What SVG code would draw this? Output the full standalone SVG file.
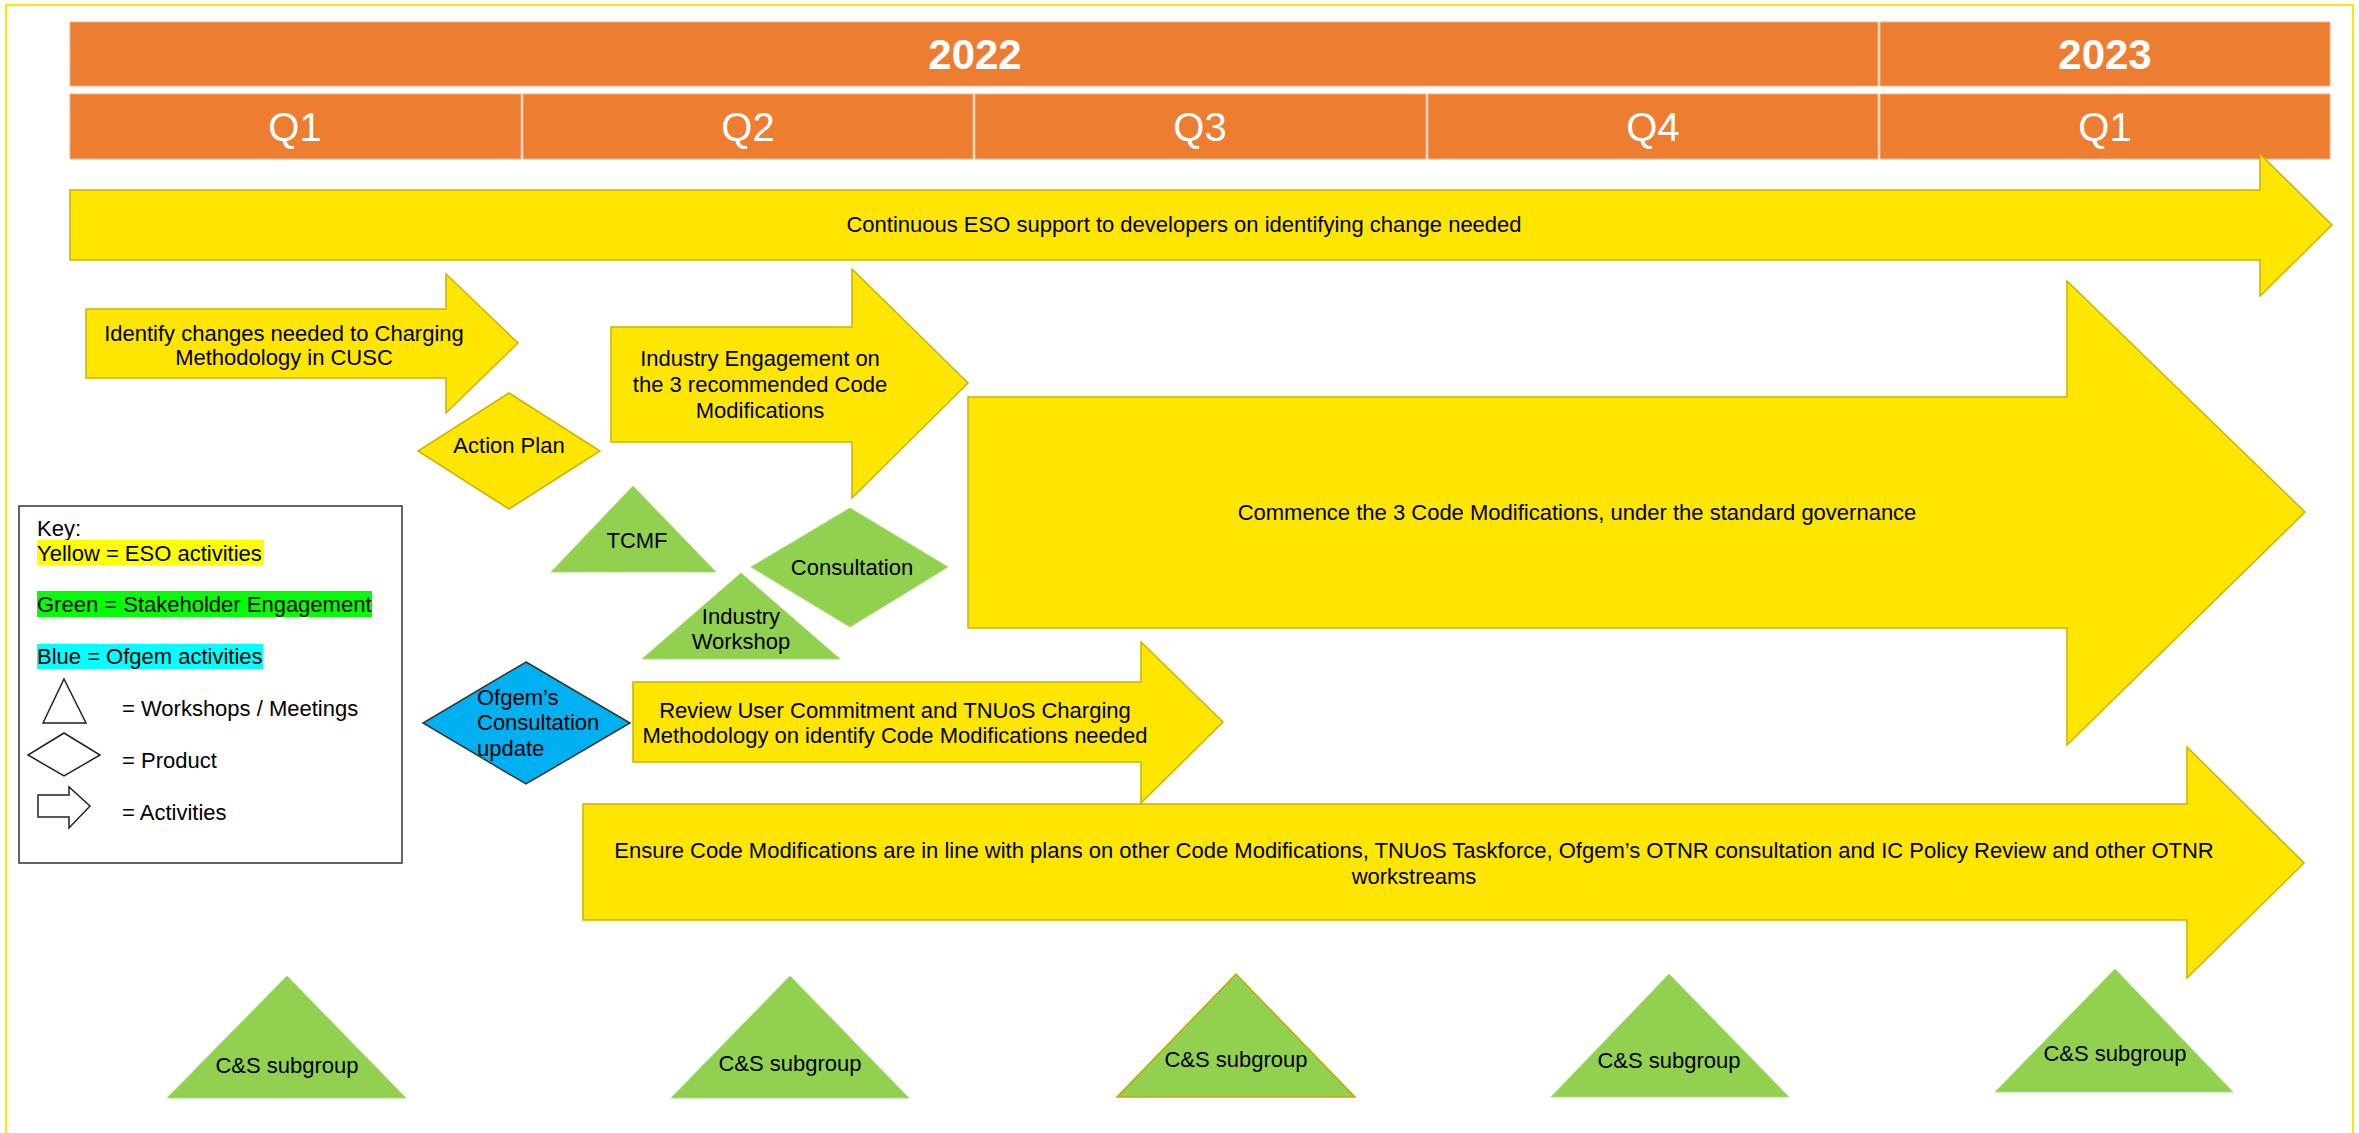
<svg xmlns="http://www.w3.org/2000/svg" width="2359" height="1133" viewBox="0 0 2359 1133">
<style>
text{font-family:"Liberation Sans",Arial,sans-serif;font-size:22px;fill:#000}
.c{text-anchor:middle}
.bar{fill:#ED7D31;stroke:#F4B183;stroke-width:1}
.yr{font-size:42px;font-weight:bold;fill:#fff;text-anchor:middle}
.q{font-size:40px;fill:#fff;text-anchor:middle}
.ya{fill:#FFE600;stroke:#C9B400;stroke-width:1.5}
.gr{fill:#92D050;stroke:#A9DC78;stroke-width:1}
.leg{fill:#fff;stroke:#222;stroke-width:1.5}
</style>
<rect x="6" y="5" width="2347" height="1145" fill="#fff" stroke="#FFE600" stroke-width="2"/>

<g id="timeline">
<rect class="bar" x="70" y="22" width="1808" height="64"/>
<rect class="bar" x="1880" y="22" width="450" height="64"/>
<text class="yr" x="975" y="69">2022</text>
<text class="yr" x="2105" y="69">2023</text>
<rect class="bar" x="70" y="94" width="451" height="65"/>
<rect class="bar" x="523" y="94" width="450" height="65"/>
<rect class="bar" x="975" y="94" width="451" height="65"/>
<rect class="bar" x="1428" y="94" width="450" height="65"/>
<rect class="bar" x="1880" y="94" width="450" height="65"/>
<text class="q" x="295" y="141">Q1</text>
<text class="q" x="748" y="141">Q2</text>
<text class="q" x="1200" y="141">Q3</text>
<text class="q" x="1653" y="141">Q4</text>
<text class="q" x="2105" y="141">Q1</text>
</g>

<g id="continuous">
<polygon class="ya" points="70,190 2260,190 2260,154 2332,225 2260,296 2260,260 70,260"/>
<text class="c" x="1184" y="232">Continuous ESO support to developers on identifying change needed</text>
</g>

<g id="identify">
<polygon class="ya" points="86,309 446,309 446,274 518,343 446,413 446,378 86,378"/>
<text class="c" x="284" y="341">Identify changes needed to Charging</text>
<text class="c" x="284" y="365">Methodology in CUSC</text>
</g>

<g id="industry-engagement">
<polygon class="ya" points="611,327 852,327 852,269 968,383 852,498 852,442 611,442"/>
<text class="c" x="760" y="366">Industry Engagement on</text>
<text class="c" x="760" y="392">the 3 recommended Code</text>
<text class="c" x="760" y="418">Modifications</text>
</g>

<g id="commence">
<polygon class="ya" points="968,397 2067,397 2067,281 2305,512 2067,745 2067,628 968,628"/>
<text class="c" x="1577" y="520">Commence the 3 Code Modifications, under the standard governance</text>
</g>

<g id="review">
<polygon class="ya" points="633,682 1141,682 1141,642 1223,722 1141,803 1141,762 633,762"/>
<text class="c" x="895" y="718">Review User Commitment and TNUoS Charging</text>
<text class="c" x="895" y="743">Methodology on identify Code Modifications needed</text>
</g>

<g id="ensure">
<polygon class="ya" points="583,804 2187,804 2187,747 2304,863 2187,978 2187,920 583,920"/>
<text class="c" x="1414" y="858">Ensure Code Modifications are in line with plans on other Code Modifications, TNUoS Taskforce, Ofgem’s OTNR consultation and IC Policy Review and other OTNR</text>
<text class="c" x="1414" y="884">workstreams</text>
</g>

<g id="action-plan">
<polygon class="ya" points="509,393 600,451 509,509 418,451"/>
<text class="c" x="509" y="453">Action Plan</text>
</g>

<g id="tcmf">
<polygon class="gr" points="633,486 716,572 551,572"/>
<text class="c" x="637" y="548">TCMF</text>
</g>

<g id="consultation">
<polygon class="gr" points="850,508 948,567 850,627 751,567"/>
<text class="c" x="852" y="575">Consultation</text>
</g>

<g id="industry-workshop">
<polygon class="gr" points="741,573 840,659 642,659"/>
<text class="c" x="741" y="624">Industry</text>
<text class="c" x="741" y="649">Workshop</text>
</g>

<g id="ofgem-consultation">
<polygon points="526,662 630,723 526,784 423,723" fill="#00B0F0" stroke="#333" stroke-width="1.5"/>
<text x="477" y="705">Ofgem’s</text>
<text x="477" y="730">Consultation</text>
<text x="477" y="756">update</text>
</g>

<g id="cs1">
<polygon class="gr" points="287,976 406,1098 167,1098"/>
<text class="c" x="287" y="1073">C&amp;S subgroup</text>
</g>
<g id="cs2">
<polygon class="gr" points="790,976 909,1098 671,1098"/>
<text class="c" x="790" y="1071">C&amp;S subgroup</text>
</g>
<g id="cs3">
<polygon points="1236,974 1355,1097 1117,1097" fill="#92D050" stroke="#C9A400" stroke-width="1.5"/>
<text class="c" x="1236" y="1067">C&amp;S subgroup</text>
</g>
<g id="cs4">
<polygon class="gr" points="1669,974 1789,1097 1551,1097"/>
<text class="c" x="1669" y="1068">C&amp;S subgroup</text>
</g>
<g id="cs5">
<polygon class="gr" points="2115,969 2233,1092 1995,1092"/>
<text class="c" x="2115" y="1061">C&amp;S subgroup</text>
</g>

<g id="key">
<rect x="19" y="506" width="383" height="357" fill="#fff" stroke="#333" stroke-width="1.5"/>
<text x="37" y="536">Key:</text>
<rect x="37" y="540" width="227" height="25" fill="#FFFF00"/>
<text x="37" y="561">Yellow = ESO activities</text>
<rect x="37" y="591" width="335" height="26" fill="#00FF00"/>
<text x="37" y="612">Green = Stakeholder Engagement</text>
<rect x="37" y="644" width="226" height="25" fill="#00FFFF"/>
<text x="37" y="664">Blue = Ofgem activities</text>
<polygon class="leg" points="64,679 86,723 43,723"/>
<text x="122" y="716">= Workshops / Meetings</text>
<polygon class="leg" points="64,733 100,755 64,776 28,755"/>
<text x="122" y="768">= Product</text>
<polygon class="leg" points="38,795 69,795 69,787 90,806 69,828 69,817 38,817"/>
<text x="122" y="820">= Activities</text>
</g>

<g id="connectors"></g>
</svg>
